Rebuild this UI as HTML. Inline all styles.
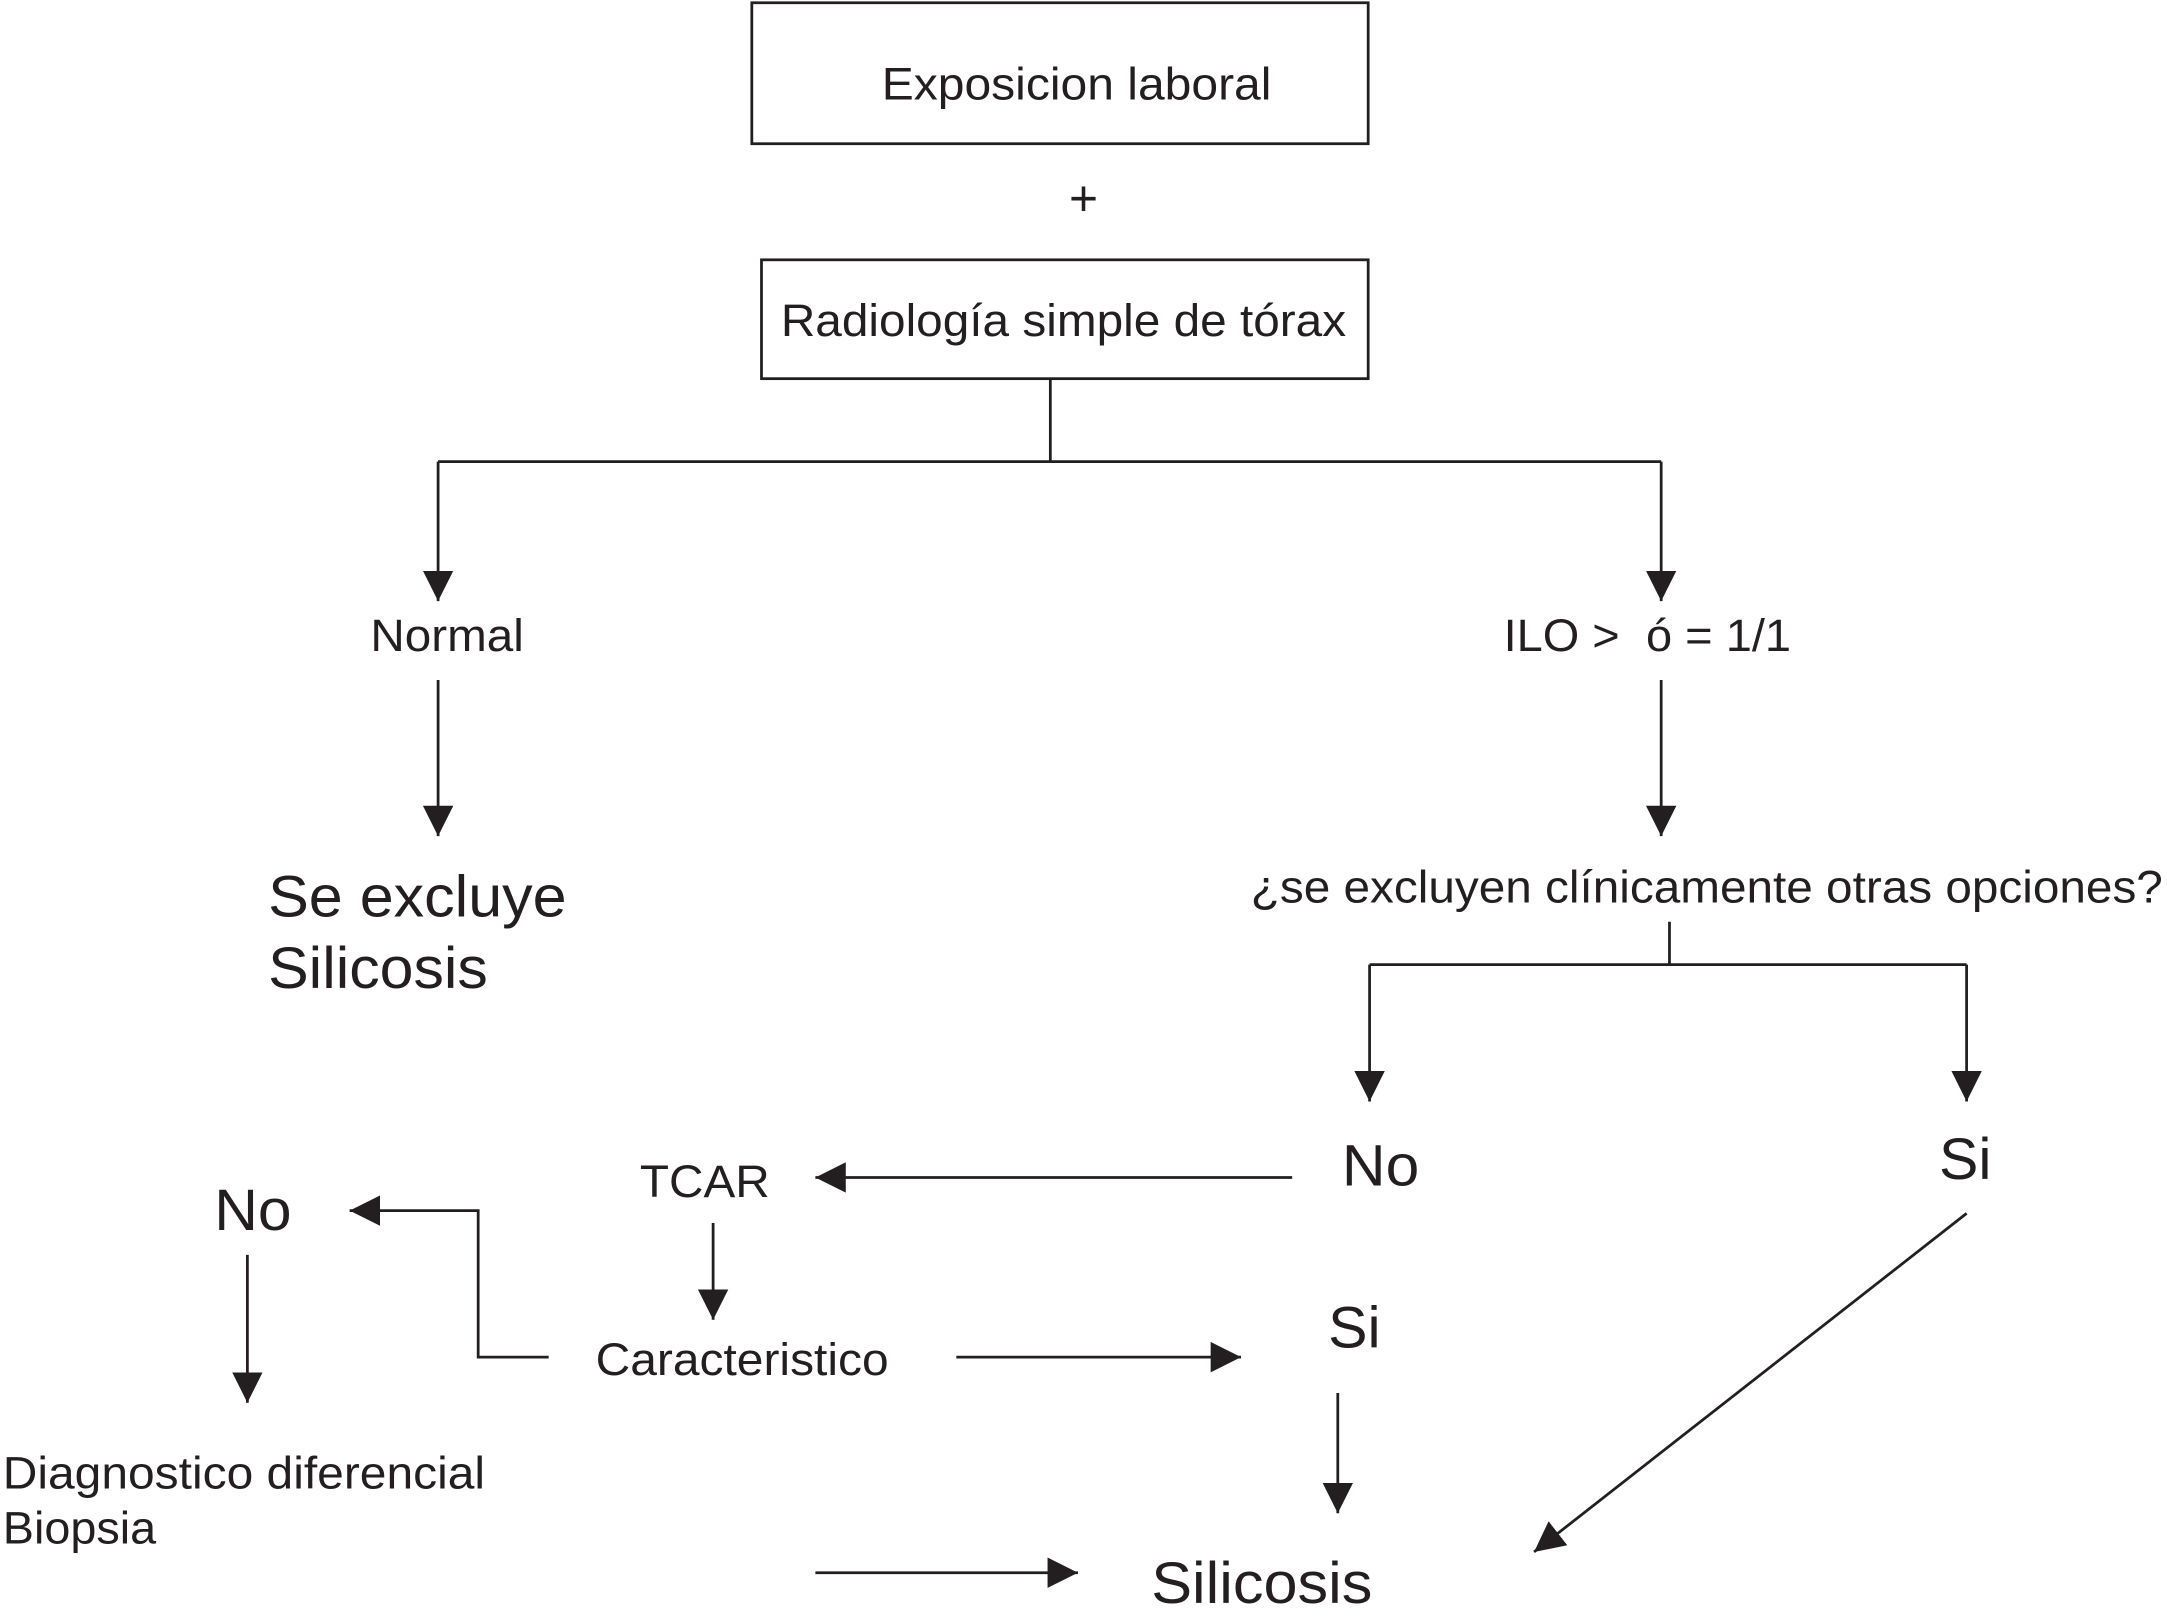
<!DOCTYPE html>
<html><head><meta charset="utf-8"><style>
html,body{margin:0;padding:0;background:#fff;}
svg{display:block;}
text{font-family:"Liberation Sans",Arial,sans-serif;fill:#231f20;}
</style></head><body>
<svg width="2167" height="1619" viewBox="0 0 1568 1171.5" preserveAspectRatio="none" xmlns="http://www.w3.org/2000/svg">
<defs>
<marker id="a" markerWidth="24" markerHeight="24" refX="22" refY="11" orient="auto" markerUnits="userSpaceOnUse">
<path d="M0,0 L22,11 L0,22 z" fill="#231f20"/>
</marker>
</defs>
<g stroke="#231f20" stroke-width="2" fill="none">
<rect x="544" y="2" width="446" height="102"/>
<rect x="551" y="188" width="439" height="86"/>
<path d="M760,274 V334 M317,334 H1202"/>
<path d="M317,334 V435" marker-end="url(#a)"/>
<path d="M1202,334 V435" marker-end="url(#a)"/>
<path d="M317,492 V605" marker-end="url(#a)"/>
<path d="M1202,492 V605" marker-end="url(#a)"/>
<path d="M1208,667 V698 M991,698 H1423"/>
<path d="M991,698 V797" marker-end="url(#a)"/>
<path d="M1423,698 V797" marker-end="url(#a)"/>
<path d="M935,852 H590" marker-end="url(#a)"/>
<path d="M516,885 V955" marker-end="url(#a)"/>
<path d="M692,982 H898" marker-end="url(#a)"/>
<path d="M397,982 H346 V876 H253" marker-end="url(#a)"/>
<path d="M179,908 V1015" marker-end="url(#a)"/>
<path d="M968,1008 V1095" marker-end="url(#a)"/>
<path d="M590,1138 H780" marker-end="url(#a)"/>
<path d="M1423,878 L1110,1123" marker-end="url(#a)"/>
</g>
<g font-size="33" lengthAdjust="spacingAndGlyphs">
<text x="638" y="72" textLength="282" lengthAdjust="spacingAndGlyphs">Exposicion laboral</text>
<text x="784" y="156" text-anchor="middle" font-size="36">+</text>
<text x="565" y="243" textLength="409" lengthAdjust="spacingAndGlyphs">Radiología simple de tórax</text>
<text x="268" y="471" textLength="111" lengthAdjust="spacingAndGlyphs">Normal</text>
<text x="1088" y="471" textLength="84" lengthAdjust="spacingAndGlyphs">ILO &gt;</text>
<text x="1191" y="471" textLength="105" lengthAdjust="spacingAndGlyphs">ó = 1/1</text>
<text x="905" y="653" textLength="660" lengthAdjust="spacingAndGlyphs">¿se excluyen clínicamente otras opciones?</text>
<text x="463" y="866" textLength="94" lengthAdjust="spacingAndGlyphs">TCAR</text>
<text x="431" y="995" textLength="212" lengthAdjust="spacingAndGlyphs">Caracteristico</text>
<text x="2" y="1077" textLength="349" lengthAdjust="spacingAndGlyphs">Diagnostico diferencial</text>
<text x="2" y="1117" textLength="111" lengthAdjust="spacingAndGlyphs">Biopsia</text>
</g>
<g font-size="42">
<text x="194" y="663" textLength="216" lengthAdjust="spacingAndGlyphs">Se excluye</text>
<text x="194" y="715" textLength="159" lengthAdjust="spacingAndGlyphs">Silicosis</text>
<text x="971" y="858" textLength="56" lengthAdjust="spacingAndGlyphs">No</text>
<text x="1403" y="853" textLength="38" lengthAdjust="spacingAndGlyphs">Si</text>
<text x="155" y="890" textLength="56" lengthAdjust="spacingAndGlyphs">No</text>
<text x="961" y="975" textLength="38" lengthAdjust="spacingAndGlyphs">Si</text>
<text x="833" y="1160" textLength="160" lengthAdjust="spacingAndGlyphs">Silicosis</text>
</g>
</svg>
</body></html>
